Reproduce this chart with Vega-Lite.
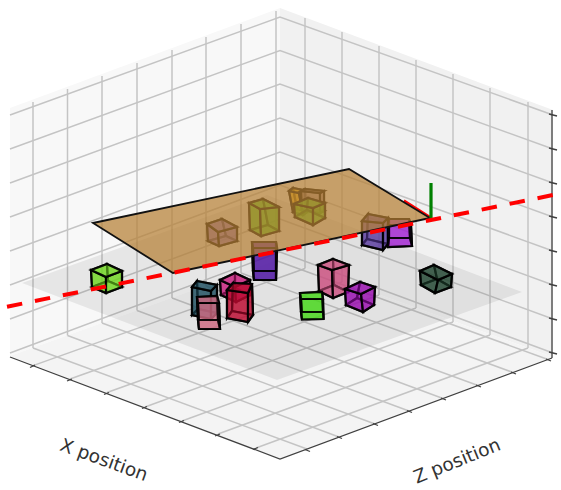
{"$schema":"https://vega.github.io/schema/vega-lite/v6.json","width":561,"height":490,"padding":0,"autosize":{"type":"none"},"background":"white","config":{"view":{"stroke":null}},
"resolve":{"scale":{"fill":"independent"}},
"datasets":{
"panes":[{"p":"left","x":[10,280,280,10],"y":[108,8,259,356]},{"p":"right","x":[280,553,553,280],"y":[8,110,357,259]},{"p":"floor","x":[10,280,553,280],"y":[356,259,357,459]}],
"grid":[
{"g":1,"x":[33,33],"y":[102,348]},{"g":2,"x":[67.5,67.5],"y":[89,335.5]},{"g":3,"x":[102,102],"y":[76,323]},{"g":4,"x":[137,137],"y":[63,310.5]},{"g":5,"x":[172,172],"y":[50,298]},{"g":6,"x":[206,206],"y":[37,286]},{"g":7,"x":[241,241],"y":[24,273]},{"g":8,"x":[276,276],"y":[11,260.5]},
{"g":9,"x":[305,305],"y":[18,268.5]},{"g":10,"x":[342,342],"y":[32,282]},{"g":11,"x":[379,379],"y":[46,295]},{"g":12,"x":[416,416],"y":[60,308]},{"g":13,"x":[453,453],"y":[74,322]},{"g":14,"x":[490,490],"y":[88,335]},{"g":15,"x":[528,528],"y":[102,348]},
{"g":16,"x":[10,280,553],"y":[115,17,115]},{"g":17,"x":[10,280,553],"y":[149,50.5,149]},{"g":18,"x":[10,280,553],"y":[183,84,183]},{"g":19,"x":[10,280,553],"y":[217,118,217]},{"g":20,"x":[10,280,553],"y":[251,152,251]},{"g":21,"x":[10,280,553],"y":[285,185,285]},{"g":22,"x":[10,280,553],"y":[319,219,319]},{"g":23,"x":[10,280,553],"y":[353,252,353]},
{"g":24,"x":[33,305],"y":[365.6,268.5]},{"g":25,"x":[70,342],"y":[379,282]},{"g":26,"x":[107,379],"y":[392.5,295]},{"g":27,"x":[145,416],"y":[407,308]},{"g":28,"x":[182,453],"y":[421,322]},{"g":29,"x":[218,490],"y":[434,335]},{"g":30,"x":[256,528],"y":[448,348]},
{"g":31,"x":[307,33],"y":[449,348]},{"g":32,"x":[339,67.5],"y":[437,335.5]},{"g":33,"x":[375,102],"y":[424,323]},{"g":34,"x":[409,137],"y":[411,310.5]},{"g":35,"x":[443,172],"y":[398.5,298]},{"g":36,"x":[478,206],"y":[385.5,286]},{"g":37,"x":[513,241],"y":[372.5,273]},{"g":38,"x":[548,276],"y":[359.5,260.5]}],
"shadow":[{"x":[22,277,522,267],"y":[283,380,292,195]}],
"axes":[
{"g":1,"x":[10,280,552],"y":[357,459,358]},{"g":2,"x":[552,552],"y":[110,358]},
{"g":3,"x":[35,30],"y":[365,367.5]},{"g":4,"x":[72,67],"y":[379,381]},{"g":5,"x":[109,104],"y":[392.5,394.5]},{"g":6,"x":[147,142],"y":[406.5,408.5]},{"g":7,"x":[184,179],"y":[420.5,422.5]},{"g":8,"x":[220,215],"y":[434,436]},{"g":9,"x":[258,253],"y":[447.5,449.5]},
{"g":10,"x":[305,310],"y":[449.5,451.5]},{"g":11,"x":[337,342],"y":[436.5,438.5]},{"g":12,"x":[373,378],"y":[423.5,425.5]},{"g":13,"x":[407,412],"y":[410.5,412.5]},{"g":14,"x":[441,446],"y":[398,400]},{"g":15,"x":[476,481],"y":[385,387]},{"g":16,"x":[511,516],"y":[372,374]},{"g":17,"x":[546,551],"y":[359,361]},
{"g":18,"x":[549,557],"y":[114,116]},{"g":19,"x":[549,557],"y":[148,150]},{"g":20,"x":[549,557],"y":[182,184]},{"g":21,"x":[549,557],"y":[216,218]},{"g":22,"x":[549,557],"y":[250,252]},{"g":23,"x":[549,557],"y":[284,286]},{"g":24,"x":[549,557],"y":[318,320]},{"g":25,"x":[549,557],"y":[352,354]}],
"cubes":[
{"c":"A","f":1,"x":[293,289,293,297],"y":[188,191,212,209]},{"c":"A","f":2,"x":[293,303,307,297],"y":[188,190,212,209]},{"c":"A","f":3,"x":[297,307,303,293],"y":[209,212,215,212]},{"c":"A","f":4,"x":[289,299,303,293],"y":[191,193,215,212]},{"c":"A","f":5,"x":[299,303,307,303],"y":[193,190,212,215]},{"c":"A","f":6,"x":[293,303,299,289],"y":[188,190,193,191]},
{"c":"B","f":1,"x":[305,301,302,306],"y":[189,191,210,208]},{"c":"B","f":2,"x":[305,324,324,306],"y":[189,191,211,208]},{"c":"B","f":3,"x":[306,324,320,302],"y":[208,211,213,210]},{"c":"B","f":4,"x":[301,320,320,302],"y":[191,193,213,210]},{"c":"B","f":5,"x":[320,324,324,320],"y":[193,191,211,213]},{"c":"B","f":6,"x":[305,324,320,301],"y":[189,191,193,191]},
{"c":"C","f":1,"x":[308,294,295,307],"y":[198,204,217,210]},{"c":"C","f":2,"x":[308,325,325,307],"y":[198,203,218,210]},{"c":"C","f":3,"x":[307,325,313,295],"y":[210,218,225,217]},{"c":"C","f":4,"x":[294,313,313,295],"y":[204,208,225,217]},{"c":"C","f":5,"x":[313,325,325,313],"y":[208,203,218,225]},{"c":"C","f":6,"x":[308,325,313,294],"y":[198,203,208,204]},
{"c":"D","f":1,"x":[222,207,208,226],"y":[219,224,241,236]},{"c":"D","f":2,"x":[222,237,237,226],"y":[219,227,241,236]},{"c":"D","f":3,"x":[226,237,219,208],"y":[236,241,246,241]},{"c":"D","f":4,"x":[207,218,219,208],"y":[224,232,246,241]},{"c":"D","f":5,"x":[218,237,237,219],"y":[232,227,241,246]},{"c":"D","f":6,"x":[222,237,218,207],"y":[219,227,232,224]},
{"c":"E","f":1,"x":[263,249,250,268],"y":[199,203,230,225]},{"c":"E","f":2,"x":[263,279,279,268],"y":[199,207,231,225]},{"c":"E","f":3,"x":[268,279,261,250],"y":[225,231,236,230]},{"c":"E","f":4,"x":[249,260,261,250],"y":[203,209,236,230]},{"c":"E","f":5,"x":[260,279,279,261],"y":[209,207,231,236]},{"c":"E","f":6,"x":[263,279,260,249],"y":[199,207,209,203]},
{"c":"F","f":1,"x":[368,362,362,367],"y":[214,221,245,239]},{"c":"F","f":2,"x":[368,388,388,367],"y":[214,218,244,239]},{"c":"F","f":3,"x":[367,388,383,362],"y":[239,244,250,245]},{"c":"F","f":4,"x":[362,383,383,362],"y":[221,223,250,245]},{"c":"F","f":5,"x":[383,388,388,383],"y":[223,218,244,250]},{"c":"F","f":6,"x":[368,388,383,362],"y":[214,218,223,221]},
{"c":"G","f":1,"x":[389,409,410,389],"y":[219,219,238,238]},{"c":"G","f":2,"x":[388,411,412,388],"y":[225,225,246,247]},{"c":"G","f":3,"x":[389,388,388,389],"y":[219,225,247,238]},{"c":"G","f":4,"x":[409,411,412,410],"y":[219,225,246,238]},{"c":"G","f":5,"x":[389,409,411,388],"y":[219,219,225,225]},{"c":"G","f":6,"x":[389,410,412,388],"y":[238,238,246,247]},
{"c":"H","f":1,"x":[252,276,276,253],"y":[242,242,271,271]},{"c":"H","f":2,"x":[253,277,276,254],"y":[248,248,280,280]},{"c":"H","f":3,"x":[252,253,254,253],"y":[242,248,280,271]},{"c":"H","f":4,"x":[276,277,276,276],"y":[242,248,280,271]},{"c":"H","f":5,"x":[252,276,277,253],"y":[242,242,248,248]},{"c":"H","f":6,"x":[253,276,276,254],"y":[271,271,280,280]},
{"c":"I","f":1,"x":[333,318,319,334],"y":[259,265,291,285]},{"c":"I","f":2,"x":[333,349,348,334],"y":[259,265,292,285]},{"c":"I","f":3,"x":[334,348,333,319],"y":[285,292,298,291]},{"c":"I","f":4,"x":[318,332,333,319],"y":[265,270,298,291]},{"c":"I","f":5,"x":[332,349,348,333],"y":[270,265,292,298]},{"c":"I","f":6,"x":[333,349,332,318],"y":[259,265,270,265]},
{"c":"J","f":1,"x":[434,420,421,437],"y":[265,271,285,279]},{"c":"J","f":2,"x":[434,452,451,437],"y":[265,274,287,279]},{"c":"J","f":3,"x":[437,451,435,421],"y":[279,287,293,285]},{"c":"J","f":4,"x":[420,438,435,421],"y":[271,280,293,285]},{"c":"J","f":5,"x":[438,452,451,435],"y":[280,274,287,293]},{"c":"J","f":6,"x":[434,452,438,420],"y":[265,274,280,271]},
{"c":"K","f":1,"x":[235,220,221,235],"y":[273,280,295,288]},{"c":"K","f":2,"x":[235,250,250,235],"y":[273,280,295,288]},{"c":"K","f":3,"x":[235,250,236,221],"y":[288,295,302,295]},{"c":"K","f":4,"x":[220,235,236,221],"y":[280,287,302,295]},{"c":"K","f":5,"x":[235,250,250,236],"y":[287,280,295,302]},{"c":"K","f":6,"x":[235,250,235,220],"y":[273,280,287,280]},
{"c":"L","f":1,"x":[360,345,346,357],"y":[282,289,305,298]},{"c":"L","f":2,"x":[360,375,374,357],"y":[282,287,305,298]},{"c":"L","f":3,"x":[357,374,363,346],"y":[298,305,312,305]},{"c":"L","f":4,"x":[345,361,363,346],"y":[289,294,312,305]},{"c":"L","f":5,"x":[361,375,374,363],"y":[294,287,305,312]},{"c":"L","f":6,"x":[360,375,361,345],"y":[282,287,294,289]},
{"c":"M","f":1,"x":[197,192,192,198],"y":[281,287,315,309]},{"c":"M","f":2,"x":[197,217,217,198],"y":[281,285,313,309]},{"c":"M","f":3,"x":[198,217,211,192],"y":[309,313,319,315]},{"c":"M","f":4,"x":[192,211,211,192],"y":[287,291,319,315]},{"c":"M","f":5,"x":[211,217,217,211],"y":[291,285,313,319]},{"c":"M","f":6,"x":[197,217,211,192],"y":[281,285,291,287]},
{"c":"N","f":1,"x":[233,227,227,232],"y":[283,290,318,311]},{"c":"N","f":2,"x":[233,252,253,232],"y":[283,284,315,311]},{"c":"N","f":3,"x":[232,253,248,227],"y":[311,315,322,318]},{"c":"N","f":4,"x":[227,248,248,227],"y":[290,293,322,318]},{"c":"N","f":5,"x":[248,252,253,248],"y":[293,284,315,322]},{"c":"N","f":6,"x":[233,252,248,227],"y":[283,284,293,290]},
{"c":"O","f":1,"x":[300,322,323,301],"y":[293,292,312,312]},{"c":"O","f":2,"x":[301,323,323.5,302],"y":[299,299,319,319.5]},{"c":"O","f":3,"x":[300,301,302,301],"y":[293,299,319.5,312]},{"c":"O","f":4,"x":[322,323,323.5,323],"y":[292,299,319,312]},{"c":"O","f":5,"x":[300,322,323,301],"y":[293,292,299,299]},{"c":"O","f":6,"x":[301,323,323.5,302],"y":[312,312,319,319.5]},
{"c":"P","f":1,"x":[197,217,218,198],"y":[297,296,320,320]},{"c":"P","f":2,"x":[198,219,220,199],"y":[303,303,329,329]},{"c":"P","f":3,"x":[197,198,199,198],"y":[297,303,329,320]},{"c":"P","f":4,"x":[217,219,220,218],"y":[296,303,329,320]},{"c":"P","f":5,"x":[197,217,219,198],"y":[297,296,303,303]},{"c":"P","f":6,"x":[198,218,220,199],"y":[320,320,329,329]},
{"c":"Q","f":1,"x":[107,91,92,108],"y":[264,270,287,281]},{"c":"Q","f":2,"x":[107,122,122,108],"y":[264,271,287,281]},{"c":"Q","f":3,"x":[108,122,106,92],"y":[281,287,293,287]},{"c":"Q","f":4,"x":[91,106,106,92],"y":[270,277,293,287]},{"c":"Q","f":5,"x":[106,122,122,106],"y":[277,271,287,293]},{"c":"Q","f":6,"x":[107,122,106,91],"y":[264,271,277,270]}
],
"plane":[{"x":[93,349,430,173],"y":[223,169,218,273]}],
"dash":[{"x":[7,558],"y":[306.7,194]}],
"labels":[{"x":104,"y":460,"t":"X position","a":"x"},{"x":457,"y":461,"t":"Z position","a":"z"}]
},
"encoding":{"x":{"field":"x","type":"quantitative","scale":{"domain":[0,561]},"axis":null},"y":{"field":"y","type":"quantitative","scale":{"domain":[490,0]},"axis":null},"order":{"field":"o","type":"quantitative"}},
"layer":[
{"data":{"name":"panes"},"transform":[{"flatten":["x","y"]},{"window":[{"op":"row_number","as":"o"}]}],"mark":{"type":"line","filled":true,"interpolate":"linear-closed","strokeWidth":0},"encoding":{"fill":{"field":"p","type":"nominal","legend":null,"scale":{"domain":["left","right","floor"],"range":["#f8f8f8","#f1f1f1","#f4f4f4"]}}}},
{"data":{"name":"grid"},"transform":[{"flatten":["x","y"]},{"window":[{"op":"row_number","as":"o"}]}],"mark":{"type":"line","color":"#c4c4c4","strokeWidth":1.5},"encoding":{"detail":{"field":"g"}}},
{"data":{"name":"shadow"},"transform":[{"flatten":["x","y"]},{"window":[{"op":"row_number","as":"o"}]}],"mark":{"type":"line","filled":true,"interpolate":"linear-closed","fill":"#000000","fillOpacity":0.07,"strokeWidth":0}},
{"data":{"name":"axes"},"transform":[{"flatten":["x","y"]},{"window":[{"op":"row_number","as":"o"}]}],"mark":{"type":"line","color":"#404040","strokeWidth":1.3},"encoding":{"detail":{"field":"g"}}},
{"data":{"name":"cubes"},"transform":[{"flatten":["x","y"]},{"window":[{"op":"row_number","as":"o"}]}],"mark":{"type":"line","filled":true,"interpolate":"linear-closed","stroke":"#000000","strokeWidth":2.2,"strokeOpacity":0.9,"fillOpacity":0.58},"encoding":{"detail":{"field":"f"},"fill":{"field":"c","type":"nominal","sort":null,"legend":null,"scale":{"domain":["A","B","C","D","E","F","G","H","I","J","K","L","M","N","O","P","Q"],"range":["#f0b000","#a08890","#50c818","#8060c0","#40c810","#5a3aa0","#a020d0","#4a10a0","#cc5080","#204530","#c81e7c","#9a0cb0","#1f5060","#bb0a30","#45d818","#cd6982","#70d820"]}}}},
{"data":{"values":[{"x":404,"y":200.5},{"x":430,"y":217}]},"mark":{"type":"line","color":"#ff0000","strokeWidth":2.2}},
{"data":{"name":"plane"},"transform":[{"flatten":["x","y"]},{"window":[{"op":"row_number","as":"o"}]}],"mark":{"type":"line","filled":true,"interpolate":"linear-closed","fill":"#b57f35","fillOpacity":0.72,"stroke":"#111111","strokeWidth":1.8}},
{"data":{"values":[{"x":431,"y":183},{"x":431,"y":218}]},"mark":{"type":"line","color":"#008000","strokeWidth":3.2}},
{"data":{"name":"dash"},"transform":[{"flatten":["x","y"]}],"mark":{"type":"line","color":"#ff0000","strokeWidth":4,"strokeDash":[15.5,13]}},
{"data":{"name":"labels"},"mark":{"type":"text","font":"DejaVu Sans","fontSize":18.5,"color":"#333333","align":"center","baseline":"middle"},"encoding":{"text":{"field":"t"},"angle":{"field":"a","type":"nominal","legend":null,"scale":{"domain":["x","z"],"range":[20,-22]}}}}
]}
